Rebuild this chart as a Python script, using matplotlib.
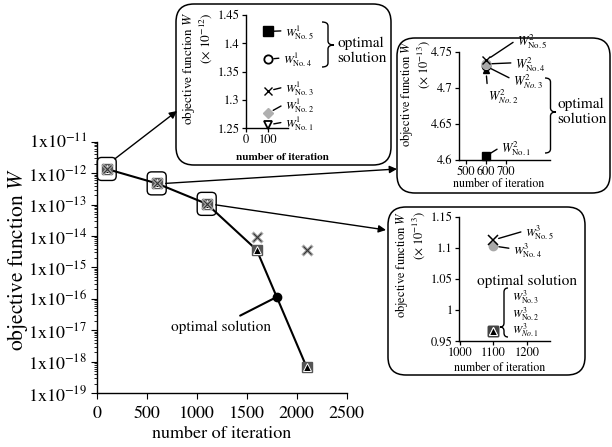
import matplotlib
matplotlib.use("Agg")
import matplotlib.pyplot as plt
from matplotlib.patches import FancyBboxPatch, FancyArrowPatch, PathPatch
from matplotlib.path import Path
from matplotlib.transforms import IdentityTransform
from matplotlib.ticker import LogLocator, NullFormatter

plt.rcParams.update({"font.family": "STIXGeneral", "mathtext.fontset": "stix",
                     "axes.linewidth": 1.0, "xtick.direction": "out",
                     "ytick.direction": "out"})

# ---- data ----
iters = [100, 600, 1100, 1600, 2100]
w_square = [1.35e-12, 4.7e-13, 1.05e-13, 3.6e-15, 6.7e-19]   # squares / triangles (line)
w_cross = [1.35e-12, 4.7e-13, 1.05e-13, 9.0e-15, 3.7e-15]
opt_iter, opt_w = 1800, 1.15e-16
ydecades = list(range(-19, -10))
ytick_labels = ["1x10$^{%d}$" % e for e in ydecades]
xticks_main = [0, 500, 1000, 1500, 2000, 2500]

ins1_iter = 100            # x 1e-12, No.1 .. No.5
ins1_w = [1.256, 1.277, 1.316, 1.372, 1.421]
ins2_iter = 600            # x 1e-13
ins2_w = [4.6055, 4.724, 4.730, 4.733, 4.738]
ins3_iter = 1100           # x 1e-13
ins3_w = [0.966, 0.966, 0.966, 1.103, 1.1125]

W, H = 612, 447
fig = plt.figure(figsize=(W / 100, H / 100), dpi=100)
ID = IdentityTransform()


def rect(left, top, right, bottom):
    return [left / W, 1 - bottom / H, (right - left) / W, (bottom - top) / H]


def pix(x, y):
    return (x, H - y)


def rbox(x0, y0, x1, y1, r, lw=1.1):
    p = FancyBboxPatch((x0 + r, H - y1 + r), x1 - x0 - 2 * r, y1 - y0 - 2 * r,
                       boxstyle="round,pad=%g" % r, fc="none", ec="black",
                       lw=lw, transform=ID)
    fig.add_artist(p)


def brace(x0, ytop, ytip, ybot, w, side=1, lw=1.0):
    xm, xt = x0 + side * w / 2, x0 + side * w
    q = 4
    pts = [(x0, ytop), (xm, ytop), (xm, ytop + q), (xm, ytip - q),
           (xm, ytip), (xt, ytip), (xm, ytip), (xm, ytip + q),
           (xm, ybot - q), (xm, ybot), (x0, ybot)]
    codes = [Path.MOVETO, Path.CURVE3, Path.CURVE3, Path.LINETO,
             Path.CURVE3, Path.CURVE3, Path.CURVE3, Path.CURVE3,
             Path.LINETO, Path.CURVE3, Path.CURVE3]
    verts = [pix(x, y) for x, y in pts]
    fig.add_artist(PathPatch(Path(verts, codes), fc="none", ec="black",
                             lw=lw, transform=ID))


def style_inset(ax):
    for sp in ["top", "right"]:
        ax.spines[sp].set_visible(False)
    ax.tick_params(labelsize=9, length=3, width=0.9, pad=1.5)
    ax.patch.set_alpha(0)


# ---- main axes ----
ax = fig.add_axes(rect(96.7, 141.6, 346.7, 393.3))
ax.set_yscale("log")
ax.set_xlim(0, 2500)
ax.set_ylim(1e-19, 1e-11)
for sp in ["top", "right"]:
    ax.spines[sp].set_visible(False)
ax.set_yticks([10.0 ** e for e in ydecades])
ax.set_yticklabels(ytick_labels)
ax.yaxis.set_minor_locator(LogLocator(base=10, subs=range(2, 10), numticks=30))
ax.yaxis.set_minor_formatter(NullFormatter())
ax.set_xticks(xticks_main)
ax.tick_params(labelsize=13, length=4, pad=3)
ax.tick_params(axis="x", pad=5)
ax.tick_params(which="minor", length=2.5)
ax.set_xlabel("number of iteration", fontsize=13, labelpad=3)
ax.set_ylabel("objective function $W$", fontsize=15.5)
ax.yaxis.set_label_coords(-0.265, 0.53)

ax.plot(iters, w_square, color="black", lw=1.5, zorder=2)
ax.plot(iters, w_square, ls="none", marker="s", ms=7.5, mfc="#555555",
        mec="#555555", zorder=3, clip_on=False)
ax.plot(iters, w_square, ls="none", marker="^", ms=6, mfc="black",
        mec="white", mew=0.7, zorder=4, clip_on=False)
ax.plot(iters, w_cross, ls="none", marker="x", ms=7, mec="#a8a8a8",
        mew=2.3, zorder=5, clip_on=False)
ax.plot(iters, w_cross, ls="none", marker="x", ms=6, mec="#333333",
        mew=0.8, zorder=6, clip_on=False)
ax.plot([opt_iter], [opt_w], ls="none", marker="o", ms=6, color="black", zorder=6)
ax.annotate("optimal solution", xy=(opt_iter, opt_w), xytext=pix(221, 327),
            textcoords="figure pixels", ha="center", va="center", fontsize=11,
            arrowprops=dict(arrowstyle="-", lw=1.5, color="black",
                            relpos=(0.6, 1.0), shrinkA=3, shrinkB=0))

# rounded boxes around the first three points and arrows to insets
fig.canvas.draw()
ends = [(177, 111), (397, 169), (386, 230)]
starts = [(8, -10), (9, 0), (9, 1)]
for i in range(3):
    px_, py_ = ax.transData.transform((iters[i], w_square[i]))
    rbox(px_ - 9.5, H - py_ - 11.5, px_ + 9.5, H - py_ + 11.5, 4.5, lw=1.0)
    sx, sy = px_ + starts[i][0], py_ - starts[i][1]
    fig.add_artist(FancyArrowPatch((sx, sy), pix(*ends[i]), transform=ID,
                                   arrowstyle="-|>", mutation_scale=11,
                                   lw=1.0, color="black", shrinkA=0, shrinkB=0))

# ---- inset frames ----
rbox(176, 4, 391, 165, 18)
rbox(397, 38, 610, 193, 18)
rbox(388, 207, 585, 375, 18)


def lab(a, text, xy, at, fs=9):
    a.annotate(text, xy=xy, xytext=pix(*at), textcoords="figure pixels",
               ha="left", va="center", fontsize=fs,
               arrowprops=dict(arrowstyle="-", lw=1.0, color="black",
                               relpos=(0.0, 0.62), shrinkA=1, shrinkB=4))


def ftext(x, y, s, **kw):
    fig.text(*pix(x, y), s, transform=ID, **kw)


# inset 1
a1 = fig.add_axes(rect(246, 15, 288, 128.3))
style_inset(a1)
a1.set_xlim(0, 188)
a1.set_ylim(1.25, 1.45)
a1.set_xticks([0, 100])
a1.set_yticks([1.25, 1.3, 1.35, 1.4, 1.45])
a1.set_yticklabels(["1.25", "1.3", "1.35", "1.4", "1.45"])
m1 = [dict(marker="v", mfc="white", mec="black", ms=6, mew=1.3),
      dict(marker="D", mfc="#b0b0b0", mec="#b0b0b0", ms=5),
      dict(marker="x", mec="black", ms=6, mew=1.0),
      dict(marker="o", mfc="white", mec="black", ms=6, mew=1.3),
      dict(marker="s", mfc="black", mec="black", ms=6.5)]
pos1 = [(285, 124), (285, 106), (285, 89), (283, 60), (285, 33)]
for k in range(5):
    a1.plot([ins1_iter], [ins1_w[k]], ls="none", clip_on=False, zorder=4, **m1[k])
    lab(a1, r"$W^{\mathit{1}}_{\rm No.%d}$" % (k + 1), (ins1_iter, ins1_w[k]),
        pos1[k], fs=8.5)
brace(322, 22, 45, 67, 12)
ftext(337, 51, "optimal\nsolution", fontsize=11, ha="left", va="center",
      linespacing=1.15)
ftext(282, 157, "number of iteration", fontsize=8, fontweight="bold",
      ha="center", va="center")
ftext(197, 12, "objective function $W$\n" + r"($\times$ 10$^{-12}$)",
      fontsize=9.5, rotation=90, ha="center", va="top", multialignment="right",
      linespacing=1.05)

# inset 2
a2 = fig.add_axes(rect(459, 51.7, 550, 160))
style_inset(a2)
a2.set_xlim(465, 920)
a2.set_ylim(4.6, 4.75)
a2.set_xticks([500, 600, 700])
a2.set_yticks([4.6, 4.65, 4.7, 4.75])
a2.set_yticklabels(["4.6", "4.65", "4.7", "4.75"])
m2 = [dict(marker="s", mfc="black", mec="black", ms=6),
      dict(marker="^", mfc="black", mec="black", ms=5),
      dict(marker="o", mfc="white", mec="black", ms=6, mew=1.0),
      dict(marker="o", mfc="#a8a8a8", mec="#a8a8a8", ms=6.5),
      dict(marker="x", mec="black", ms=6, mew=1.0)]
pos2 = [(501, 149), (488, 97), (513, 82), (515, 65), (517, 42)]
subs2 = [r"\rm No.1", r"\mathit{No.2}", r"\mathit{No.3}", r"\rm No.4", r"\rm No.5"]
for k in range(5):
    a2.plot([ins2_iter], [ins2_w[k]], ls="none", clip_on=False, zorder=4, **m2[k])
    lab(a2, r"$W^{2}_{%s}$" % subs2[k], (ins2_iter, ins2_w[k]), pos2[k])
brace(545, 78, 112, 153, 11)
ftext(557, 112, "optimal\nsolution", fontsize=11, ha="left", va="center",
      linespacing=1.15)
ftext(499, 184, "number of iteration", fontsize=8.5, ha="center", va="center")
ftext(415, 40, "objective function $W$\n" + r"($\times$ 10$^{-13}$)",
      fontsize=9, rotation=90, ha="center", va="top", multialignment="right",
      linespacing=1.05)

# inset 3
a3 = fig.add_axes(rect(459, 216.7, 550, 341))
style_inset(a3)
a3.set_xlim(997, 1270)
a3.set_ylim(0.95, 1.15)
a3.set_xticks([1000, 1100, 1200])
a3.set_yticks([0.95, 1.0, 1.05, 1.1, 1.15])
a3.set_yticklabels(["0.95", "1", "1.05", "1.1", "1.15"])
a3.plot([ins3_iter] * 3, ins3_w[:3], ls="none", marker="s", ms=7, mfc="#444444",
        mec="#444444", clip_on=False, zorder=3)
a3.plot([ins3_iter] * 3, ins3_w[:3], ls="none", marker="^", ms=5.5, mfc="black",
        mec="white", mew=0.7, clip_on=False, zorder=4)
a3.plot([ins3_iter], [ins3_w[3]], ls="none", marker="o", ms=6, mfc="#a8a8a8",
        mec="#a8a8a8", clip_on=False, zorder=4)
a3.plot([ins3_iter], [ins3_w[4]], ls="none", marker="x", ms=7, mec="black",
        mew=1.1, clip_on=False, zorder=5)
lab(a3, r"$W^{\mathit{3}}_{\rm No.5}$", (ins3_iter, ins3_w[4]), (525, 233), fs=8.5)
lab(a3, r"$W^{\mathit{3}}_{\rm No.4}$", (ins3_iter, ins3_w[3]), (513, 251), fs=8.5)
ftext(512, 298, r"$W^{\mathit{3}}_{\rm No.3}$", fontsize=8, ha="left", va="center")
ftext(512, 314.5, r"$W^{\mathit{3}}_{\rm No.2}$", fontsize=8, ha="left", va="center")
ftext(512, 331, r"$W^{\mathit{3}}_{\mathit{No.1}}$", fontsize=8, ha="left", va="center")
brace(508, 288, 327, 337, 8, side=-1)
ftext(527, 281, "optimal solution", fontsize=11, ha="center", va="center")
ftext(500, 368, "number of iteration", fontsize=8.5, ha="center", va="center")
ftext(410, 211, "objective function $W$\n" + r"($\times$ 10$^{-13}$)",
      fontsize=9, rotation=90, ha="center", va="top", multialignment="right",
      linespacing=1.05)

fig.savefig("out.png", dpi=100)
